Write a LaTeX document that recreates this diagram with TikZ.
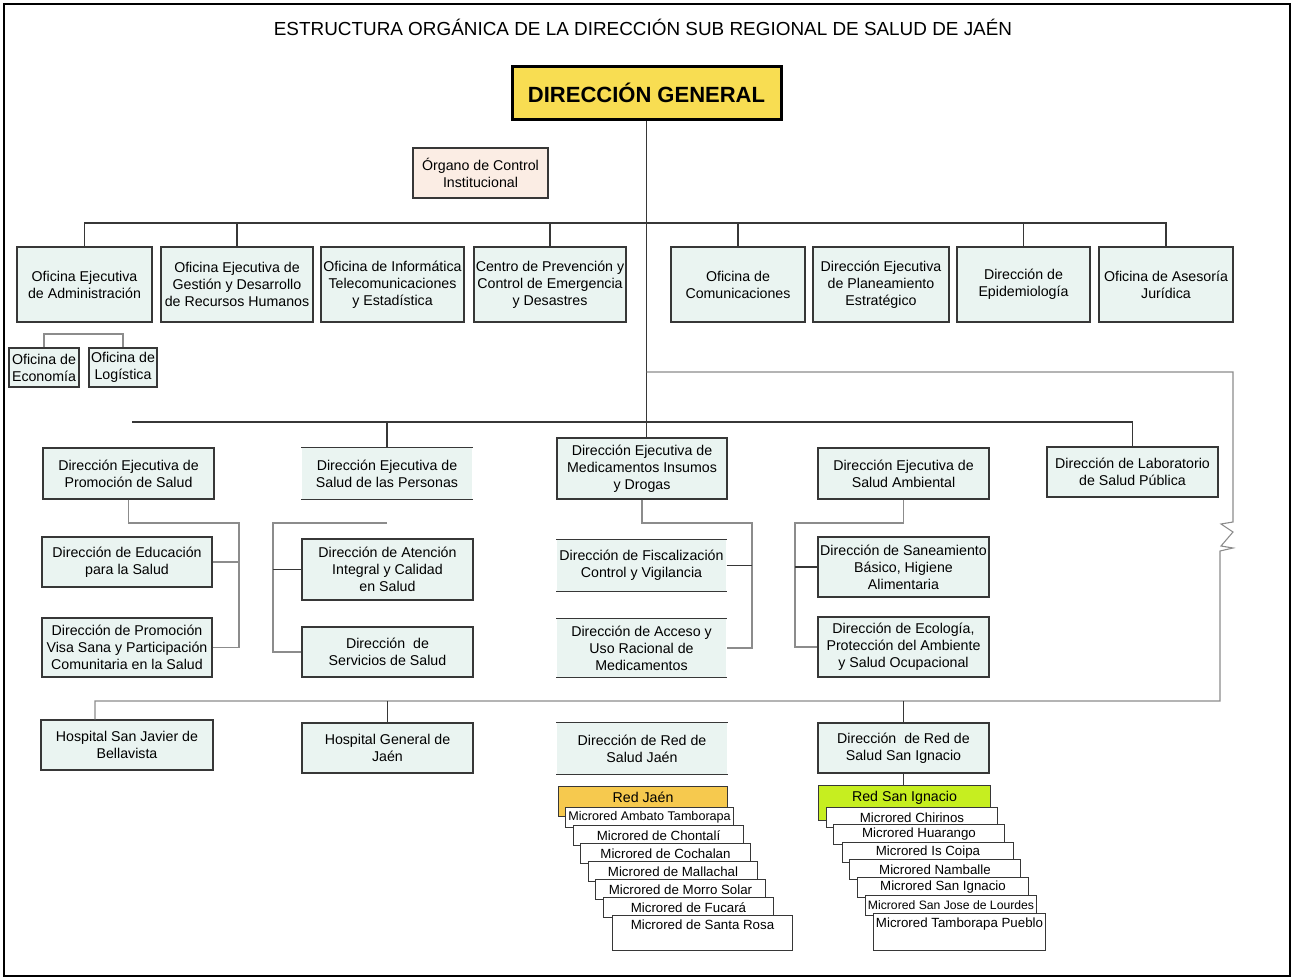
\documentclass[tikz,border=0pt]{standalone}
\usepackage{fontspec}
\setmainfont{Liberation Sans}

\definecolor{boxfill}{RGB}{234,244,241}
\definecolor{linedark}{RGB}{55,55,55}
\definecolor{linegray}{RGB}{140,140,140}
\definecolor{dgyellow}{RGB}{248,221,82}
\definecolor{ocipeach}{RGB}{251,237,228}
\definecolor{redjaen}{RGB}{246,201,78}
\definecolor{redsan}{RGB}{198,238,32}

\tikzset{
  box/.style={draw=linedark, line width=1.1pt, fill=boxfill, align=center, inner sep=0.5pt,
    font=\fontsize{14.2}{17}\selectfont},
  openbox/.style={box, draw=none, append after command={
    (\tikzlastnode.north west) edge[draw=linedark, line width=1.1pt] (\tikzlastnode.north east)
    (\tikzlastnode.south west) edge[draw=linedark, line width=1.1pt] (\tikzlastnode.south east)}},
  micro/.style={draw=linedark, line width=1pt, fill=white, anchor=north west, minimum height=20pt,
    inner sep=0.5pt, font=\fontsize{13.3}{15}\selectfont},
  link/.style={draw=linedark, line width=1.1pt},
  glink/.style={draw=linegray, line width=1.1pt},
}

\begin{document}
\begin{tikzpicture}[x=1pt, y=-1pt]

\useasboundingbox (0,0) rectangle (1294,980);
% Frame
\draw[line width=2.5pt] (4,4) rectangle (1290,976);

% Title
\node (title) at (643,27) {\fontsize{18.9}{21}\selectfont ESTRUCTURA ORGÁNICA DE LA DIRECCIÓN SUB REGIONAL DE SALUD DE JAÉN};

% Top
\node[box, fill=dgyellow, draw=black, line width=3pt, minimum width=269pt, minimum height=53pt,
  font=\bfseries\fontsize{22}{24}\selectfont] (dg) at (646.5,92.5) {DIRECCIÓN GENERAL};
\node[box, fill=ocipeach, minimum width=135pt, minimum height=50pt] (oci) at (480.5,173) {Órgano de Control\\Institucional};

% Second row
\node[box, minimum width=135pt, minimum height=75pt] (adm) at (84.5,284.5) {Oficina Ejecutiva\\de Administración};
\node[box, minimum width=152pt, minimum height=75pt] (gest) at (237,284.5) {Oficina Ejecutiva de\\Gestión y Desarrollo\\de Recursos Humanos};
\node[box, minimum width=143pt, minimum height=75pt] (info) at (392.5,284.5) {Oficina de Informática\\Telecomunicaciones\\y Estadística};
\node[box, minimum width=152pt, minimum height=75pt] (cprev) at (550,284.5) {Centro de Prevención y\\Control de Emergencia\\y Desastres};
\node[box, minimum width=134pt, minimum height=75pt] (comu) at (738,284.5) {Oficina de\\Comunicaciones};
\node[box, minimum width=136pt, minimum height=75pt] (plan) at (881,284.5) {Dirección Ejecutiva\\de Planeamiento\\Estratégico};
\node[box, minimum width=133pt, minimum height=75pt] (epid) at (1023.5,284.5) {Dirección de\\Epidemiología};
\node[box, minimum width=134pt, minimum height=75pt] (jur) at (1166,284.5) {Oficina de Asesoría\\Jurídica};

\node[box, minimum width=70pt, minimum height=39pt] (econ) at (44,367.5) {Oficina de\\Economía};
\node[box, minimum width=68pt, minimum height=39pt] (logi) at (123,367.5) {Oficina de\\Logística};

% Third row
\node[box, minimum width=171pt, minimum height=51pt] (promo) at (128.5,473.5) {Dirección Ejecutiva de\\Promoción de Salud};
\node[openbox, minimum width=170pt, minimum height=51pt] (pers) at (387,473.5) {Dirección Ejecutiva de\\Salud de las Personas};
\node[box, minimum width=170pt, minimum height=61pt] (medic) at (642,468.5) {Dirección Ejecutiva de\\Medicamentos Insumos\\y Drogas};
\node[box, minimum width=171pt, minimum height=51pt] (amb) at (903.5,473.5) {Dirección Ejecutiva de\\Salud Ambiental};
\node[box, minimum width=171pt, minimum height=50pt] (lab) at (1132.5,472) {Dirección de Laboratorio\\de Salud Pública};

% Fourth row
\node[box, minimum width=170pt, minimum height=50pt] (educ) at (127,562) {Dirección de Educación\\para la Salud};
\node[box, minimum width=170pt, minimum height=59pt] (vida) at (127,647.5) {Dirección de Promoción\\Visa Sana y Participación\\Comunitaria en la Salud};
\node[box, minimum width=171pt, minimum height=61pt] (aten) at (387.5,569.5) {Dirección de Atención\\Integral y Calidad\\en Salud};
\node[box, minimum width=171pt, minimum height=50pt] (serv) at (387.5,652) {Dirección~ de\\Servicios de Salud};
\node[openbox, minimum width=169pt, minimum height=51pt] (fisc) at (641.5,565.5) {Dirección de Fiscalización\\Control y Vigilancia};
\node[openbox, minimum width=169pt, minimum height=58pt] (acce) at (641.5,648) {Dirección de Acceso y\\Uso Racional de\\Medicamentos};
\node[box, minimum width=171pt, minimum height=60pt] (sane) at (903.5,567) {Dirección de Saneamiento\\Básico, Higiene\\Alimentaria};
\node[box, minimum width=171pt, minimum height=60pt] (eco) at (903.5,647) {Dirección de Ecología,\\Protección del Ambiente\\y Salud Ocupacional};

% Fifth row
\node[box, minimum width=172pt, minimum height=50pt] (hsj) at (127,745) {Hospital San Javier de\\Bellavista};
\node[box, minimum width=171pt, minimum height=50pt] (hgj) at (387.5,748) {Hospital General de\\Jaén};
\node[openbox, minimum width=170pt, minimum height=51pt] (drj) at (642,748.5) {Dirección de Red de\\Salud Jaén};
\node[box, minimum width=171pt, minimum height=50pt] (dsi) at (903.5,748) {Dirección~ de Red de\\Salud San Ignacio};

% Redes
\node[box, fill=redjaen, anchor=north west, minimum width=169pt, minimum height=30pt,
  text height=15pt, text depth=14pt] (redj) at (558,786) {Red Jaén};
\node[box, fill=redsan, anchor=north west, minimum width=172pt, minimum height=35pt,
  text height=15pt, text depth=19pt] (reds) at (818,785) {Red San Ignacio};

% Microredes Jaen
\node[micro, minimum width=168pt, font=\fontsize{12.6}{14}\selectfont] (mj1) at (565,807) {Microred Ambato Tamborapa};
\node[micro, minimum width=170pt] (mj2) at (573,825) {Microred de Chontalí};
\node[micro, minimum width=170pt] (mj3) at (580,843) {Microred de Cochalan};
\node[micro, minimum width=169pt] (mj4) at (588,861) {Microred de Mallachal};
\node[micro, minimum width=170pt] (mj5) at (595,879) {Microred de Morro Solar};
\node[micro, minimum width=170pt] (mj6) at (603,897) {Microred de Fucará};
\node[micro, minimum width=180pt, minimum height=35pt, text height=13pt, text depth=21pt] (mj7) at (612,915) {Microred de Santa Rosa};

% Microredes San Ignacio
\node[micro, minimum width=171pt] (ms1) at (826,807) {Microred Chirinos};
\node[micro, minimum width=171pt] (ms2) at (833,824) {Microred Huarango};
\node[micro, minimum width=171pt] (ms3) at (842,842) {Microred Is Coipa};
\node[micro, minimum width=171pt] (ms4) at (849,859) {Microred Namballe};
\node[micro, minimum width=171pt] (ms5) at (857,877) {Microred San Ignacio};
\node[micro, minimum width=171pt, font=\fontsize{12.2}{14}\selectfont] (ms6) at (865,895) {Microred San Jose de Lourdes};
\node[micro, minimum width=172pt, minimum height=37pt, text height=13pt, text depth=23pt] (ms7) at (873,913) {Microred Tamborapa Pueblo};

% Trunk
\draw[link] (dg.south) -- (dg.south |- medic.north);

% Second row lines
\coordinate (b2) at (0,223);
\draw[link] (adm.north) -- (adm.north |- b2) -- (jur.north |- b2) -- (jur.north);
\draw[link] (gest.north) -- (gest.north |- b2);
\draw[link] (cprev.north) -- (cprev.north |- b2);
\draw[link] (comu.north) -- (comu.north |- b2);
\draw[link] (epid.north) -- (epid.north |- b2);

\coordinate (b2e) at (0,334);
\draw[glink] (econ.north) -- (econ.north |- b2e) -- (logi.north |- b2e) -- (logi.north);

% Third row lines
\coordinate (b3) at (132,422);
\draw[link] (b3) -| (lab.north);
\draw[link] (pers.north |- b3) -- (pers.north);

% Brackets
\coordinate (pv) at (239,523);
\draw[glink] (promo.south) |- (pv) |- (vida.east);
\draw[glink] (educ.east) -- (educ.east -| pv);

\coordinate (psv) at (273,523);
\draw[glink] (pers.south |- psv) -- (psv) |- (serv.west);
\draw[link] (aten.west) -- (aten.west -| psv);

\coordinate (mv) at (752,523);
\draw[glink] (medic.south) |- (mv) |- (acce.east);
\draw[link] (fisc.east) -- (fisc.east -| mv);

\coordinate (av) at (795,523);
\draw[glink] (amb.south) |- (av) |- (eco.west);
\draw[link] (sane.west) -- (sane.west -| av);

% Right side and fifth row
\coordinate (b4) at (0,372);
\coordinate (b5) at (95,701);
\draw[glink] (dg.south |- b4) -| (1233,522) -- (1221,524) -- (1233,532) -- (1221,546) -- (1233,548) -- (1220,551) |- (b5) -- (b5 |- hsj.north);
\draw[link] (hgj.north |- b5) -- (hgj.north);
\draw[link] (dsi.north |- b5) -- (dsi.north);
\draw[link] (dsi.south) -- (dsi.south |- reds.north);

\end{tikzpicture}
\end{document}
